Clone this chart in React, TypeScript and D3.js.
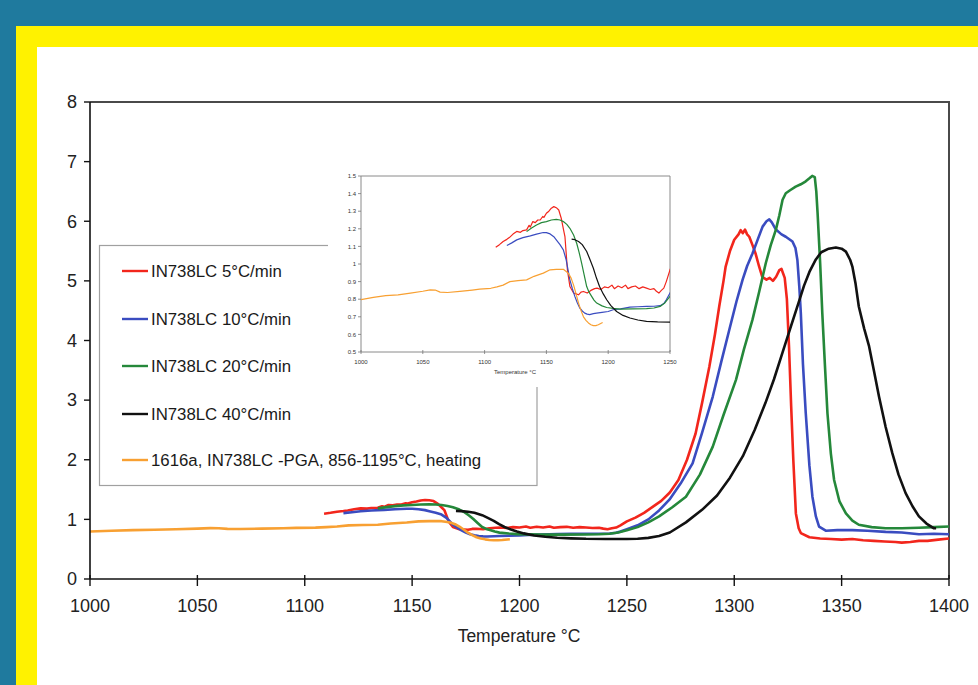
import React from "react";
import * as d3 from "d3";

// [temperature °C, signal]
const red5: [number, number][] = [
  [1109, 1.095], [1112, 1.11], [1115, 1.128], [1118, 1.14], [1120, 1.15], [1123, 1.17],
  [1126, 1.185], [1129, 1.18], [1131, 1.19], [1134, 1.194], [1136, 1.22], [1137, 1.21],
  [1139, 1.241], [1141, 1.235], [1143, 1.25], [1145, 1.25], [1147, 1.27], [1148, 1.265],
  [1150, 1.288], [1152, 1.3], [1154, 1.317], [1156, 1.326], [1158, 1.32], [1160, 1.307],
  [1162, 1.26], [1164, 1.19], [1165, 1.156], [1167, 0.967], [1169, 0.872], [1172, 0.835],
  [1174, 0.83], [1176, 0.825], [1178, 0.84], [1180, 0.844], [1183, 0.835], [1186, 0.85],
  [1189, 0.86], [1191, 0.863], [1194, 0.855], [1197, 0.87], [1200, 0.865], [1203, 0.88],
  [1205, 0.86], [1208, 0.875], [1211, 0.865], [1214, 0.88], [1216, 0.86], [1219, 0.87],
  [1222, 0.875], [1225, 0.86], [1228, 0.87], [1231, 0.863], [1234, 0.855], [1237, 0.86],
  [1239, 0.845], [1241, 0.835], [1243, 0.85], [1245, 0.863], [1247, 0.9], [1250, 0.967],
  [1254, 1.03], [1258, 1.11], [1262, 1.21], [1266, 1.31], [1270, 1.45], [1274, 1.66],
  [1278, 2.0], [1282, 2.44], [1285, 2.95], [1288.4, 3.56], [1291, 4.1], [1293, 4.57],
  [1295, 5.0], [1296, 5.24], [1298, 5.5], [1300, 5.69], [1302, 5.78], [1303, 5.85],
  [1304, 5.8], [1305, 5.86], [1306, 5.78], [1307, 5.74], [1308.5, 5.6], [1310, 5.45],
  [1311.5, 5.25], [1313, 5.07], [1315, 5.02], [1316.5, 5.05], [1318, 5.0], [1319.5, 5.07],
  [1321, 5.18], [1322, 5.2], [1323.5, 5.05], [1324.5, 4.7], [1325.5, 3.9], [1326.5, 2.9],
  [1327.5, 2.0], [1328.7, 1.1], [1330, 0.85], [1331, 0.77], [1335, 0.7], [1340, 0.68],
  [1345, 0.67], [1350, 0.66], [1355, 0.67], [1360, 0.65], [1365, 0.64], [1370, 0.63],
  [1375, 0.62], [1378, 0.61], [1382, 0.62], [1386, 0.64], [1390, 0.64], [1395, 0.66],
  [1400, 0.68],
];

const blue10: [number, number][] = [
  [1118, 1.105], [1122, 1.12], [1126, 1.137], [1131, 1.15], [1137, 1.16], [1142, 1.17],
  [1147.5, 1.179], [1150, 1.178], [1153, 1.171], [1156, 1.155], [1158, 1.137], [1161, 1.11],
  [1163.7, 1.08], [1166, 1.024], [1169, 0.91], [1171, 0.86], [1173, 0.816], [1175, 0.78],
  [1177, 0.75], [1179, 0.733], [1181, 0.721], [1183, 0.715], [1185, 0.712], [1188, 0.718],
  [1190.6, 0.721], [1195, 0.725], [1200, 0.73], [1204, 0.74], [1210, 0.745], [1217.6, 0.755],
  [1224, 0.757], [1231, 0.759], [1237, 0.76], [1242, 0.763], [1245, 0.775], [1247, 0.797],
  [1250, 0.835], [1255, 0.9], [1260, 1.0], [1265, 1.15], [1269.8, 1.33], [1275, 1.6],
  [1280.6, 1.94], [1285, 2.45], [1290, 3.06], [1294, 3.65], [1297.7, 4.18], [1301, 4.65],
  [1303.9, 5.02], [1306, 5.25], [1308.5, 5.46], [1311, 5.7], [1313.2, 5.91], [1315, 6.0],
  [1316.3, 6.03], [1317.5, 5.98], [1319.4, 5.86], [1322, 5.78], [1324, 5.74], [1327.1, 5.66],
  [1328.5, 5.55], [1329.4, 5.35], [1330.3, 4.9], [1331, 4.46], [1332, 3.6], [1333.3, 2.78],
  [1335, 1.9], [1336.4, 1.38], [1338, 1.05], [1339.5, 0.88], [1342.6, 0.81], [1348, 0.82],
  [1355, 0.82], [1362, 0.81], [1370.5, 0.79], [1378, 0.78], [1386, 0.75], [1393, 0.76],
  [1400, 0.75],
];

const green20: [number, number][] = [
  [1134, 1.184], [1138, 1.205], [1142, 1.222], [1146, 1.235], [1150, 1.241], [1154, 1.25],
  [1158, 1.254], [1161, 1.25], [1163.7, 1.241], [1166.5, 1.225], [1169, 1.203], [1172, 1.165],
  [1174.5, 1.118], [1176.5, 1.065], [1178.5, 1.005], [1180.5, 0.94], [1182.6, 0.872],
  [1184.5, 0.84], [1186.6, 0.816], [1188.5, 0.795], [1190.7, 0.778], [1195, 0.762],
  [1198.8, 0.753], [1204, 0.748], [1209.5, 0.744], [1220, 0.745], [1231, 0.746], [1237, 0.75],
  [1242, 0.759], [1246, 0.78], [1250, 0.816], [1255, 0.87], [1260, 0.95], [1265, 1.05],
  [1271, 1.2], [1277.5, 1.38], [1284, 1.75], [1290, 2.22], [1295, 2.75], [1300.8, 3.34],
  [1304.5, 3.85], [1308.5, 4.35], [1311.5, 4.8], [1314.7, 5.3], [1317, 5.6], [1319.4, 5.86],
  [1321, 6.1], [1322.5, 6.36], [1324, 6.47], [1326, 6.52], [1328.6, 6.58], [1331, 6.62],
  [1333.3, 6.67], [1335, 6.72], [1336.3, 6.76], [1337.5, 6.74], [1338.2, 6.5], [1338.8, 6.14],
  [1340, 5.3], [1341, 4.46], [1342.2, 3.6], [1343.4, 2.78], [1345, 2.1], [1346.5, 1.66],
  [1349, 1.3], [1352, 1.1], [1355, 0.98], [1358, 0.91], [1364, 0.87], [1370.5, 0.85],
  [1378, 0.85], [1386, 0.86], [1393, 0.87], [1400, 0.88],
];

const black40: [number, number][] = [
  [1170.4, 1.141], [1173, 1.138], [1176, 1.128], [1179, 1.11], [1182.6, 1.071], [1185, 1.03],
  [1188, 0.976], [1190.5, 0.92], [1193, 0.872], [1196, 0.83], [1198.8, 0.797], [1202, 0.765],
  [1206.8, 0.73], [1212, 0.708], [1217.6, 0.693], [1224, 0.682], [1231, 0.674], [1240, 0.671],
  [1250, 0.67], [1255, 0.675], [1260, 0.69], [1265, 0.72], [1270, 0.78], [1277.5, 0.95],
  [1285, 1.16], [1292, 1.4], [1298, 1.7], [1304, 2.06], [1309.5, 2.5], [1314.5, 2.95],
  [1318.5, 3.35], [1322.5, 3.8], [1326.5, 4.25], [1330, 4.64], [1332.5, 4.92], [1335, 5.15],
  [1338, 5.36], [1340.5, 5.48], [1344, 5.54], [1347.3, 5.56], [1350, 5.54], [1352, 5.49],
  [1354, 5.35], [1355, 5.24], [1356.5, 4.95], [1358, 4.57], [1360.5, 4.2], [1362.8, 3.9],
  [1365, 3.5], [1367.4, 3.06], [1370.5, 2.55], [1373.6, 2.11], [1376.5, 1.75], [1379.8, 1.44],
  [1383, 1.22], [1386, 1.05], [1389.5, 0.93], [1393, 0.85], [1394, 0.85],
];

const orangePGA: [number, number][] = [
  [1000, 0.797], [1010, 0.81], [1020, 0.82], [1030, 0.825], [1040, 0.835], [1050, 0.845],
  [1056, 0.853], [1060, 0.852], [1064, 0.84], [1070, 0.838], [1080, 0.845], [1090, 0.852],
  [1096, 0.857], [1105, 0.862], [1110, 0.87], [1115, 0.88], [1120.5, 0.9], [1127, 0.905],
  [1134, 0.91], [1140, 0.93], [1147.5, 0.948], [1153, 0.967], [1158, 0.97], [1163.7, 0.97],
  [1165.5, 0.96], [1167.7, 0.948], [1170, 0.92], [1172, 0.88], [1174, 0.83], [1176, 0.778],
  [1178, 0.735], [1180, 0.7], [1182, 0.68], [1184, 0.665], [1186, 0.655], [1188, 0.65],
  [1190, 0.65], [1192, 0.655], [1195.5, 0.668],
];

const seriesNames = [
  "IN738LC 5°C/min",
  "IN738LC 10°C/min",
  "IN738LC 20°C/min",
  "IN738LC 40°C/min",
  "1616a, IN738LC -PGA, 856-1195°C, heating",
];
const seriesColors = ["#f2261c", "#3a4cc0", "#25883a", "#111111", "#f8a032"];
const seriesData = [red5, blue10, green20, black40, orangePGA];

const xTicks = [1000, 1050, 1100, 1150, 1200, 1250, 1300, 1350, 1400];
const yTicks = [0, 1, 2, 3, 4, 5, 6, 7, 8];
const insetXTicks = [1000, 1050, 1100, 1150, 1200, 1250];
const insetYTicks = [0.5, 0.6, 0.7, 0.8, 0.9, 1, 1.1, 1.2, 1.3, 1.4, 1.5];

const FONT = "'Liberation Sans', Arial, sans-serif";

const App = () => {
  const width = 978;
  const height = 685;

  // main plot
  const plot = { left: 90, right: 949, top: 102, bottom: 579 };
  const xScale = d3.scaleLinear().domain([1000, 1400]).range([plot.left, plot.right]);
  const yScale = d3.scaleLinear().domain([0, 8]).range([plot.bottom, plot.top]);
  const line = d3
    .line<[number, number]>()
    .x((d) => xScale(d[0]))
    .y((d) => yScale(d[1]));

  // inset plot
  const ins = { left: 361, right: 670, top: 176, bottom: 352 };
  const ixScale = d3.scaleLinear().domain([1000, 1250]).range([ins.left, ins.right]);
  const iyScale = d3.scaleLinear().domain([0.5, 1.5]).range([ins.bottom, ins.top]);
  const iline = d3
    .line<[number, number]>()
    .x((d) => ixScale(d[0]))
    .y((d) => iyScale(d[1]));

  const legendRows = [271, 319, 366, 414, 460];

  return (
    <svg
      width={width}
      height={height}
      style={{ position: "absolute", left: 0, top: 0, fontFamily: FONT }}
    >
      <defs>
        <clipPath id="mainClip">
          <rect x={plot.left} y={plot.top - 4} width={plot.right - plot.left} height={plot.bottom - plot.top + 4} />
        </clipPath>
        <clipPath id="insetClip">
          <rect x={ins.left} y={ins.top} width={ins.right - ins.left} height={ins.bottom - ins.top} />
        </clipPath>
      </defs>

      {/* frame */}
      <rect x={0} y={0} width={width} height={height} fill="#1f7a9e" />
      <rect x={16} y={26} width={width - 16} height={height - 26} fill="#fff200" />
      <rect x={37} y={47} width={width - 37} height={height - 47} fill="#ffffff" />

      {/* plot border top/right */}
      <path
        d={`M${plot.left},${plot.top}H${plot.right}V${plot.bottom}`}
        fill="none"
        stroke="#4a4a4a"
        strokeWidth={2}
      />

      {/* Curves */}
      <g clipPath="url(#mainClip)">
        {seriesData.map((d, i) => (
          <path
            key={seriesNames[i]}
            d={line(d) || ""}
            fill="none"
            stroke={seriesColors[i]}
            strokeWidth={2.6}
            strokeLinejoin="round"
          />
        ))}
      </g>

      {/* axes */}
      <line x1={plot.left} x2={plot.left} y1={plot.top} y2={plot.bottom} stroke="#111" strokeWidth={1.6} />
      <line x1={plot.left} x2={plot.right} y1={plot.bottom} y2={plot.bottom} stroke="#111" strokeWidth={1.6} />
      {
        // Y ticks
        yTicks.map((t) => (
          <g key={t} transform={`translate(0,${yScale(t)})`}>
            <line x1={plot.left - 6} x2={plot.left} stroke="#111" strokeWidth={1.4} />
            <text x={77} dy=".35em" textAnchor="end" fontSize={18} fill="#222">
              {t}
            </text>
          </g>
        ))
      }
      {
        // X ticks
        xTicks.map((t) => (
          <g key={t} transform={`translate(${xScale(t)},0)`}>
            <line y1={plot.bottom - 4} y2={plot.bottom + 7} stroke="#111" strokeWidth={1.4} />
            <text y={612} textAnchor="middle" fontSize={18} fill="#222">
              {t}
            </text>
          </g>
        ))
      }
      <text x={519} y={642} textAnchor="middle" fontSize={17.5} fill="#222">
        Temperature °C
      </text>

      {/* Legend */}
      <rect x={99.5} y={245.5} width={437.5} height={240} fill="#fff" stroke="#a0a0a0" strokeWidth={1.2} />
      {seriesNames.map((name, i) => (
        <g key={name} transform={`translate(0,${legendRows[i]})`}>
          <line x1={122} x2={148} stroke={seriesColors[i]} strokeWidth={2.4} />
          <text x={151} dy=".35em" fontSize={16.8} fill="#1a1a1a">
            {name}
          </text>
        </g>
      ))}

      {/* Inset */}
      <rect x={328} y={163} width={356} height={224} fill="#fff" />
      <path
        d={`M${ins.left},${ins.top}H${ins.right}V${ins.bottom}H${ins.left}Z`}
        fill="none"
        stroke="#8a8a8a"
        strokeWidth={1}
      />
      <g clipPath="url(#insetClip)">
        {seriesData.map((d, i) => (
          <path
            key={seriesNames[i]}
            d={iline(d.filter((p) => p[0] <= 1256)) || ""}
            fill="none"
            stroke={seriesColors[i]}
            strokeWidth={1.2}
            strokeLinejoin="round"
          />
        ))}
      </g>
      {insetYTicks.map((t) => (
        <g key={t} transform={`translate(0,${iyScale(t)})`}>
          <line x1={ins.left - 3} x2={ins.left} stroke="#777" strokeWidth={0.8} />
          <text x={ins.left - 5} dy=".35em" textAnchor="end" fontSize={6} fill="#333">
            {String(+t.toFixed(1))}
          </text>
        </g>
      ))}
      {insetXTicks.map((t) => (
        <g key={t} transform={`translate(${ixScale(t)},0)`}>
          <line y1={ins.bottom - 2} y2={ins.bottom + 2} stroke="#777" strokeWidth={0.8} />
          <text y={ins.bottom + 12} textAnchor="middle" fontSize={6} fill="#333">
            {t}
          </text>
        </g>
      ))}
      <text x={515} y={ins.bottom + 22} textAnchor="middle" fontSize={6} fill="#333">
        Temperature °C
      </text>
    </svg>
  );
};

export default App;
